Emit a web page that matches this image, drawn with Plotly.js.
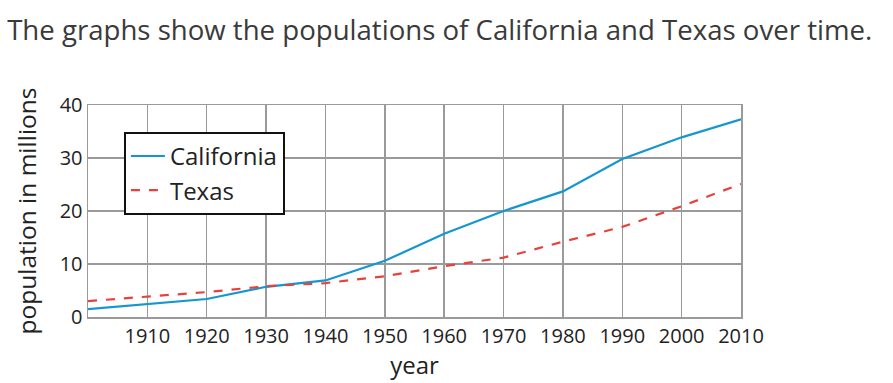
<!DOCTYPE html>
<html><head><meta charset="utf-8">
<script src="https://cdn.plot.ly/plotly-3.0.1.min.js"></script>
<style>body{margin:0;background:#fff}#c{width:893px;height:383px}</style>
</head><body><div id="c"></div>
<script>
const years = [1900,1910,1920,1930,1940,1950,1960,1970,1980,1990,2000,2010];
const california = [1.5,2.4,3.4,5.7,6.9,10.6,15.7,20.0,23.7,29.8,33.9,37.3];
const texas = [3.0,3.9,4.7,5.8,6.4,7.7,9.6,11.2,14.2,17.0,20.9,25.1];
const xTicks = [1910,1920,1930,1940,1950,1960,1970,1980,1990,2000,2010];
const yTicks = [0,10,20,30,40];
const titleText = "The graphs show the populations of California and Texas over time.";

const font = "Open Sans, Noto Sans, sans-serif";
const traces = [
 {x: years, y: california, name: "California", mode: "lines", line: {color: "#1596d0", width: 2.2}},
 {x: years, y: texas, name: "Texas", mode: "lines", line: {color: "#e8403a", width: 2.2, dash: "dash"}}
];
const layout = {
 width: 893, height: 383,
 margin: {l: 88, r: 152, t: 105, b: 66},
 paper_bgcolor: "#fff", plot_bgcolor: "#fff",
 font: {family: font, color: "#222"},
 showlegend: true,
 title: {text: titleText, x: 0.008, xanchor: "left", y: 0.92, yanchor: "middle", xref: "container", yref: "container",
   font: {family: font, size: 27.6, color: "#3a3a3a"}},
 xaxis: {range: [1900, 2010], tickvals: xTicks, ticktext: xTicks.map(String),
   showgrid: true, gridcolor: "#9a9a9a", gridwidth: 1.5,
   showline: true, linecolor: "#9a9a9a", linewidth: 1.5, mirror: true,
   zeroline: false, ticks: "", tickfont: {size: 20, color: "#222"},
   title: {text: "year", font: {size: 24, color: "#222"}, standoff: 2}},
 yaxis: {range: [0, 40], tickvals: yTicks,
   showgrid: true, gridcolor: "#9a9a9a", gridwidth: 1.5,
   showline: true, linecolor: "#9a9a9a", linewidth: 1.5, mirror: true,
   zeroline: false, ticks: "", tickfont: {size: 20, color: "#222"},
   title: {text: "population in millions", font: {size: 24.5, color: "#222"}, standoff: 16}},
 legend: {x: 0.055, y: 0.873, xanchor: "left", yanchor: "top",
   bgcolor: "#fff", bordercolor: "#111", borderwidth: 2, itemwidth: 34,
   font: {size: 24, color: "#222"}, tracegroupgap: 0}
};
Plotly.newPlot("c", traces, layout, {displayModeBar: false, staticPlot: true});
</script></body></html>
